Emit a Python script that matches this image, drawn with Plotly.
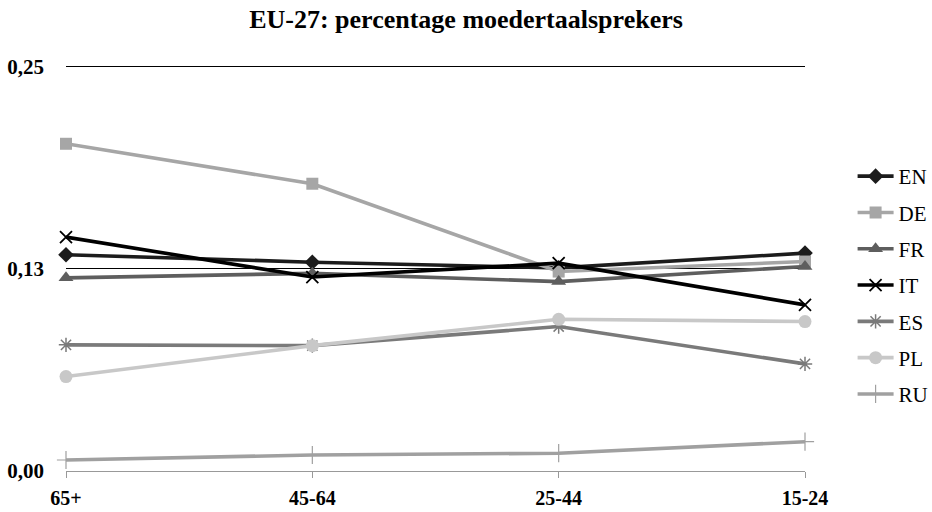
import plotly.graph_objects as go

categories = ["65+", "45-64", "25-44", "15-24"]

EN = [0.1337, 0.1291, 0.1256, 0.1347]
DE = [0.2023, 0.1776, 0.1233, 0.1295]
FR = [0.1194, 0.1222, 0.1171, 0.1264]
IT = [0.1446, 0.1199, 0.1285, 0.1027]
ES = [0.0780, 0.0775, 0.0893, 0.0662]
PL = [0.0584, 0.0775, 0.0938, 0.0924]
RU = [0.0068, 0.0099, 0.0110, 0.0181]

y_tickvals = [0, 0.125, 0.25]
y_ticktext = ["0,00", "0,13", "0,25"]

series = [
    ("EN", EN, "#1c1c1c", "diamond", 12, 0),
    ("DE", DE, "#a6a6a6", "square", 12, 0),
    ("FR", FR, "#5e5e5e", "triangle-up", 13, 0),
    ("IT", IT, "#000000", "x-thin", 12, 1.8),
    ("ES", ES, "#7a7a7a", "asterisk", 12, 1.5),
    ("PL", PL, "#c8c8c8", "circle", 13, 0),
    ("RU", RU, "#a0a0a0", "cross-thin", 13, 1.2),
]

FONT = "Liberation Serif"

fig = go.Figure()
for name, vals, color, sym, size, mlw in series:
    marker = dict(symbol=sym, size=size, color=color)
    if mlw:
        marker["line"] = dict(color=color, width=mlw)
    fig.add_trace(go.Scatter(
        x=categories, y=vals, name=name, mode="lines+markers",
        line=dict(color=color, width=3.6),
        marker=marker, cliponaxis=False,
        legendgroup=name,
    ))

fig.update_layout(
    width=932, height=512,
    margin=dict(l=66, r=127, t=65, b=41, autoexpand=False),
    paper_bgcolor="white", plot_bgcolor="white",
    font=dict(family=FONT, color="#000000"),
    title=dict(text="<b>EU-27: percentage moedertaalsprekers</b>",
               x=0.5, xref="container", xanchor="center",
               y=0.963, yref="container", yanchor="middle",
               font=dict(family=FONT, size=26, color="#000000")),
    xaxis=dict(type="category", range=[0, 3], showgrid=False, showline=False,
               zeroline=False, ticks="outside", ticklen=6, tickcolor="#999999",
               tickwidth=1, ticklabelstandoff=3, automargin=False,
               tickfont=dict(family=FONT, size=20, color="#000000"),
               tickprefix="<b>", ticksuffix="</b>"),
    yaxis=dict(range=[0, 0.251], tickvals=y_tickvals,
               ticktext=["<b>%s</b>" % t for t in y_ticktext],
               showgrid=True, gridcolor="#000000", gridwidth=1,
               zeroline=True, zerolinecolor="#999999", zerolinewidth=1.2,
               showline=False, ticks="", ticklabelstandoff=21, automargin=False,
               tickfont=dict(family=FONT, size=21, color="#000000")),
    legend=dict(xref="container", yref="container",
                x=0.9148, xanchor="left", y=0.4453, yanchor="middle",
                font=dict(family=FONT, size=21, color="#000000"),
                tracegroupgap=6, itemwidth=36,
                bgcolor="rgba(0,0,0,0)"),
    showlegend=True,
)

fig.write_html("out.html", config={"displayModeBar": False},
               post_script="document.body.style.margin='0';document.body.style.overflow='hidden';")
